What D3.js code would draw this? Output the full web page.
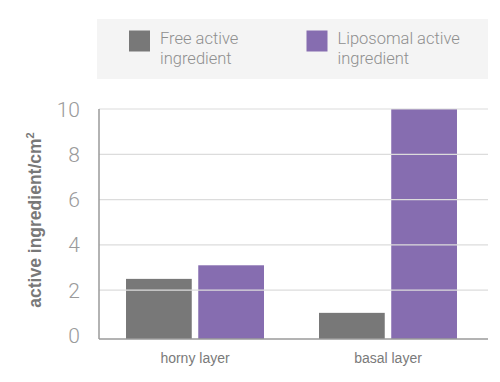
<!DOCTYPE html>
<html><head><meta charset="utf-8">
<script src="https://cdn.jsdelivr.net/npm/d3@7"></script>
<style>body{margin:0;background:#fff}</style>
</head><body>
<svg id="c" width="500" height="382"></svg>
<script>
const categories = ["horny layer", "basal layer"];
const seriesNames = ["Free active ingredient", "Liposomal active ingredient"];
const freeValues = [2.5, 1.0];
const liposomalValues = [3.1, 10];
const yTicks = [0, 2, 4, 6, 8, 10];
const colors = ["#787878", "#866db0"];

const svg = d3.select("#c");
const font = "Roboto, 'Liberation Sans', sans-serif";
const font2 = "'Liberation Sans', Arial, sans-serif";

// legend
svg.append("rect").attr("x", 97).attr("y", 19).attr("width", 391).attr("height", 60).attr("fill", "#f4f4f4");
const legendX = [129, 306.5];
const legendLines = [["Free active", "ingredient"], ["Liposomal active", "ingredient"]];
seriesNames.forEach((s, i) => {
  svg.append("rect").attr("x", legendX[i]).attr("y", 30.5).attr("width", 21).attr("height", 21).attr("fill", colors[i]);
  const t = svg.append("text").attr("x", legendX[i] + 31).attr("y", 43.5)
    .attr("font-family", font).attr("font-weight", 300).attr("font-size", 16.5).attr("fill", "#8f8f8f");
  legendLines[i].forEach((l, k) => t.append("tspan").attr("x", legendX[i] + 31).attr("dy", k ? 20 : 0).text(l));
});

const y = d3.scaleLinear().domain([0, 10]).range([335.5, 109]);
const x0 = d3.scaleBand().domain(categories).range([99, 484]).paddingInner(0.285).paddingOuter(0.14);
const x1 = d3.scaleBand().domain([0, 1]).range([0, x0.bandwidth()]).paddingInner(0.09);

const data = categories.map((c, i) => ({c, v: [freeValues[i], liposomalValues[i]]}));
const g = svg.append("g");
data.forEach(d => {
  d.v.forEach((v, j) => {
    g.append("rect").attr("x", x0(d.c) + x1(j)).attr("y", y(v))
      .attr("width", x1.bandwidth()).attr("height", 339 - y(v)).attr("fill", colors[j]);
  });
});

// gridlines on top
svg.append("g").selectAll("line").data(yTicks.filter(t => t > 0)).join("line")
  .attr("x1", 99).attr("x2", 488).attr("y1", d => y(d)).attr("y2", d => y(d))
  .attr("stroke", "#dcdcdc").attr("stroke-width", 1.2);

// axis lines
svg.append("line").attr("x1", 99).attr("x2", 488).attr("y1", 339).attr("y2", 339).attr("stroke", "#9a9a9a").attr("stroke-width", 1.5);
svg.append("line").attr("x1", 99).attr("x2", 99).attr("y1", 109).attr("y2", 339).attr("stroke", "#9a9a9a").attr("stroke-width", 1.5);

// y tick labels
svg.append("g").selectAll("text").data(yTicks).join("text")
  .attr("x", 80).attr("y", d => y(d) + 7.5).attr("text-anchor", "end")
  .attr("font-family", font).attr("font-weight", 300).attr("font-size", 21).attr("fill", "#9a9a9a")
  .text(d => d);

// x labels
svg.append("g").selectAll("text").data(categories).join("text")
  .attr("x", d => x0(d) + x0.bandwidth() / 2).attr("y", 363).attr("text-anchor", "middle")
  .attr("font-family", font2).attr("font-size", 14).attr("fill", "#7a7a7a")
  .text(d => d);

// y title
const yt = svg.append("text").attr("transform", "translate(41,220) rotate(-90)").attr("text-anchor", "middle")
  .attr("font-family", font2).attr("font-weight", 700).attr("font-size", 17.5).attr("fill", "#787878");
yt.append("tspan").text("active ingredient/cm");
yt.append("tspan").attr("font-size", 11).attr("dy", -7).text("2");
</script>
</body></html>
